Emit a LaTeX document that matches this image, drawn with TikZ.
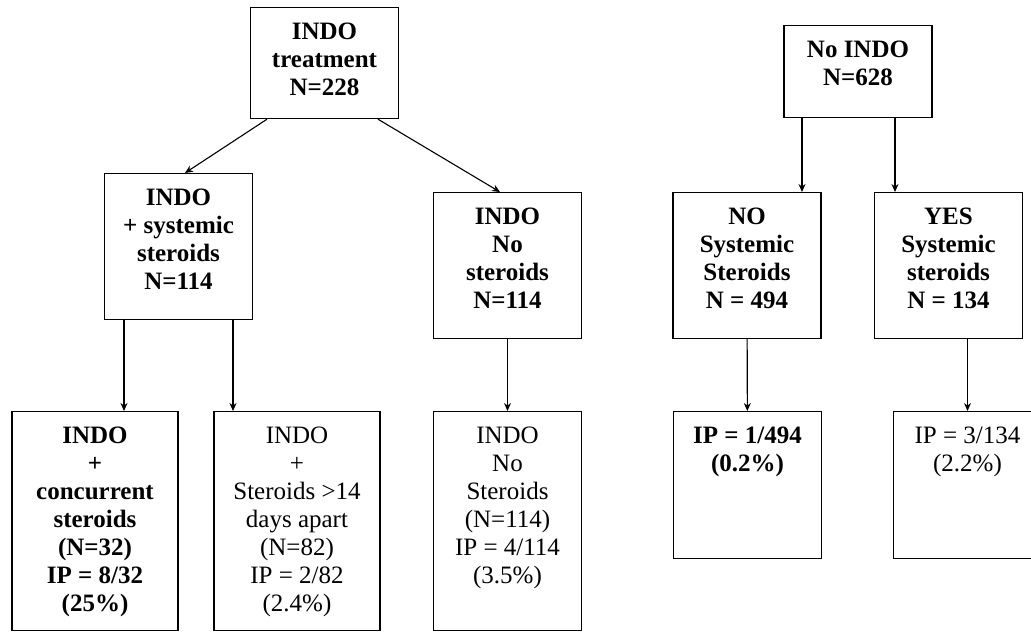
\documentclass[tikz,border=0pt]{standalone}
\usepackage{fontspec}
\setmainfont{Liberation Serif}
\usetikzlibrary{arrows.meta,positioning,calc}

\begin{document}
\begin{tikzpicture}[
    x=1pt, y=-1pt,
    box/.style={
        draw,
        line width=1.2pt,
        anchor=north,
        inner sep=0pt,
        minimum width=148pt,
        minimum height=146pt
    },
    wide/.style={box, minimum width=166pt, minimum height=219pt},
    txt/.style={
        anchor=north,
        align=center,
        inner sep=0pt,
        font=\fontsize{25}{28}\selectfont\bfseries
    },
    plain/.style={txt, font=\fontsize{25}{28}\selectfont},
    arrow/.style={-{Stealth[length=8pt,width=7pt]}, line width=1.1pt}
]
    \useasboundingbox (0,0) rectangle (1031,632);

    % INDO branch
    \node[box, minimum height=111pt] (treat) at (324.5,7) {};
    \node[box] (sys) at (178.5,173) {};
    \node[box] (nost) at (507.5,192) {};
    \node[wide] (conc) at (95,411) {};
    \node[wide] (apart) at (297,411) {};
    \node[wide, minimum width=148pt] (nost2) at (507.5,411) {};

    % No INDO branch
    \node[box, minimum height=92pt] (noindo) at (858,25) {};
    \node[box] (nosys) at (747,192) {};
    \node[box] (yessys) at (948.5,192) {};
    \node[box, minimum height=147pt] (ipno) at (747.5,411) {};
    \node[box, minimum height=147pt] (ipyes) at (967.5,411) {};

    % Texts
    \node[txt] (treattxt) at ([yshift=-16pt]treat.north) {INDO\\treatment\\N=228};
    \node[txt] (systxt) at ([yshift=-16pt]sys.north) {INDO\\+ systemic\\steroids\\N=114};
    \node[txt] (nosttxt) at ([yshift=-16pt]nost.north) {INDO\\No\\steroids\\N=114};
    \node[txt] (conctxt) at ([yshift=-16pt]conc.north) {INDO\\+\\concurrent\\steroids\\(N=32)\\IP = 8/32\\(25\%)};
    \node[plain] (aparttxt) at ([yshift=-16pt]apart.north) {INDO\\+\\Steroids >14\\days apart\\(N=82)\\IP = 2/82\\(2.4\%)};
    \node[plain] (nost2txt) at ([yshift=-16pt]nost2.north) {INDO\\No\\Steroids\\(N=114)\\IP = 4/114\\(3.5\%)};
    \node[txt] (noindotxt) at ([yshift=-16pt]noindo.north) {No INDO\\N=628};
    \node[txt] (nosystxt) at ([yshift=-16pt]nosys.north) {NO\\Systemic\\Steroids\\N = 494};
    \node[txt] (yessystxt) at ([yshift=-16pt]yessys.north) {YES\\Systemic\\steroids\\N = 134};
    \node[txt] (ipnotxt) at ([yshift=-16pt]ipno.north) {IP = 1/494\\(0.2\%)};
    \node[plain] (ipyestxt) at ([yshift=-16pt]ipyes.north) {IP = 3/134\\(2.2\%)};

    % Arrows
    \draw[arrow] ([xshift=-57.5pt]treat.south) -- ([xshift=6.5pt]sys.north);
    \draw[arrow] ([xshift=53.5pt]treat.south) -- ([xshift=-7.5pt]nost.north);
    \draw[arrow] ([xshift=-54.5pt]sys.south) -- ([xshift=-54.5pt]sys.south |- conc.north);
    \draw[arrow] ([xshift=54.5pt]sys.south) -- ([xshift=54.5pt]sys.south |- apart.north);
    \draw[arrow] (nost) -- (nost2);
    \draw[arrow] ([xshift=-56pt]noindo.south) -- ([xshift=-56pt]noindo.south |- nosys.north);
    \draw[arrow] ([xshift=37pt]noindo.south) -- ([xshift=37pt]noindo.south |- yessys.north);
    \draw[arrow] (nosys) -- (ipno);
    \draw[arrow] (yessys.south -| ipyes.north) -- (ipyes.north);
\end{tikzpicture}
\end{document}
